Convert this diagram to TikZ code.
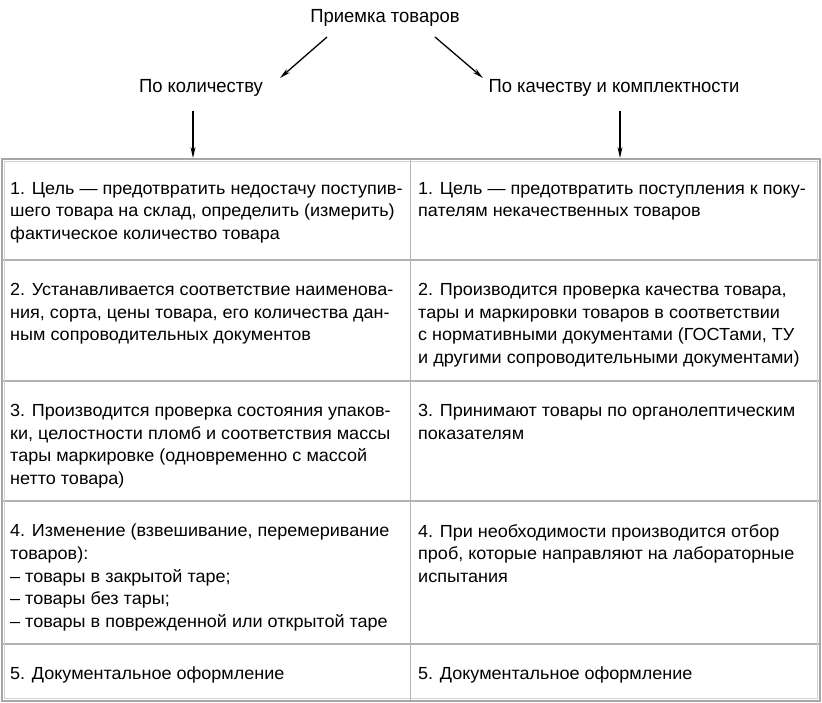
\documentclass[tikz,border=0pt]{standalone}
\usepackage{fontspec}
\setmainfont{Liberation Sans}
\newfontfamily\headfont[FakeStretch=0.97]{Liberation Sans}
\newfontfamily\cellfont[FakeStretch=1.03]{Liberation Sans}
\usetikzlibrary{arrows.meta}
\begin{document}
\begin{tikzpicture}[x=1pt,y=-1pt,
  lbl/.style={font=\headfont\fontsize{19}{22}\selectfont, inner sep=0pt},
  cell/.style={font=\cellfont\fontsize{17.5}{22.6}\selectfont, inner sep=0pt, anchor=north west, align=left},
  gridline/.style={draw=gray!60, line width=1.2pt},
  arr/.style={line width=1.3pt, -{Stealth[length=11pt,width=5pt]}}]
\useasboundingbox (0,0) rectangle (822,703);
% headers
\node[lbl] (top) at (385,18) {Приемка товаров};
\node[lbl] (qty) at (201,88) {По количеству};
\node[lbl] (qual) at (614,88) {По качеству и комплектности};
\coordinate (ta) at (327,37);
\coordinate (tb) at (435,37);
\coordinate (qa) at (280,78);
\coordinate (qb) at (483,78);
\coordinate (qs) at (193,111);
\coordinate (qe) at (193,158);
\coordinate (rs) at (620,111);
\coordinate (re) at (620,158);
\draw[arr] (ta) -- (qa);
\draw[arr] (tb) -- (qb);
\draw[arr] (qs) -- (qe);
\draw[arr] (rs) -- (re);
% table
\draw[gridline] (410.5,159) -- (410.5,701);
\foreach \yy in {260,381,501,644} \draw[gridline] (2,\yy) -- (820,\yy);
\draw[draw=gray!70, line width=1.4pt] (2,159) rectangle (820,701);
\draw[draw=gray!35, line width=0.8pt] (4.3,161.3) rectangle (817.7,698.7);
% cells
\node[cell] (l1) at (10,182) {1. Цель — предотвратить недостачу поступив-\\шего товара на склад, определить (измерить)\\фактическое количество товара};
\node[cell] (r1) at (418,182) {1. Цель — предотвратить поступления к поку-\\пателям некачественных товаров};
\node[cell] (l2) at (10,283) {2. Устанавливается соответствие наименова-\\ния, сорта, цены товара, его количества дан-\\ным сопроводительных документов};
\node[cell] (r2) at (418,283) {2. Производится проверка качества товара,\\тары и маркировки товаров в соответствии\\с нормативными документами (ГОСТами, ТУ\\и другими сопроводительными документами)};
\node[cell] (l3) at (10,404) {3. Производится проверка состояния упаков-\\ки, целостности пломб и соответствия массы\\тары маркировке (одновременно с массой\\нетто товара)};
\node[cell] (r3) at (418,404) {3. Принимают товары по органолептическим\\показателям};
\node[cell] (l4) at (10,524) {4. Изменение (взвешивание, перемеривание\\товаров):\\– товары в закрытой таре;\\– товары без тары;\\– товары в поврежденной или открытой таре};
\node[cell] (r4) at (418,524) {4. При необходимости производится отбор\\проб, которые направляют на лабораторные\\испытания};
\node[cell] (l5) at (10,667) {5. Документальное оформление};
\node[cell] (r5) at (418,667) {5. Документальное оформление};
\end{tikzpicture}
\end{document}
